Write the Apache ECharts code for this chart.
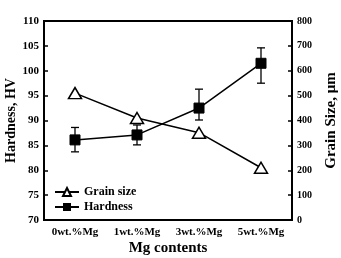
<!DOCTYPE html>
<html>
<head>
<meta charset="utf-8">
<script src="https://cdn.jsdelivr.net/npm/echarts@6/dist/echarts.min.js"></script>
<style>
  html, body { margin: 0; padding: 0; background: #fff; }
  #chart { width: 341px; height: 258px; }
</style>
</head>
<body>
<div id="chart"></div>
<script>
// 数据
var categories = ['0wt.%Mg', '1wt.%Mg', '3wt.%Mg', '5wt.%Mg'];
var hardness = [86.1, 87.1, 92.5, 101.5];
var hardnessLow = [83.7, 85.1, 90.1, 97.5];
var hardnessHigh = [88.6, 89.1, 96.3, 104.6];
var grainSize = [510, 410, 351, 210];

var font = 'Liberation Serif';

var errData = [];
for (var i = 0; i < categories.length; i++) {
  errData.push([i, hardnessLow[i], hardnessHigh[i]]);
}

var myEchart = echarts.init(document.getElementById('chart'));
var option = {
  animation: false,
  textStyle: { fontFamily: font },
  grid: {
    left: 44, right: 49, top: 21, bottom: 38,
    outerBoundsMode: 'none',
    containLabel: false,
    show: true, borderColor: '#000', borderWidth: 2, backgroundColor: 'transparent'
  },
  legend: {
    orient: 'vertical',
    left: 49, top: 181,
    itemGap: 3,
    itemWidth: 24, itemHeight: 10,
    textStyle: { fontFamily: font, fontWeight: 'bold', fontSize: 12, color: '#000' },
    data: ['Grain size', 'Hardness']
  },
  xAxis: {
    type: 'category',
    data: categories,
    name: 'Mg contents',
    nameLocation: 'middle',
    nameGap: 21,
    nameMoveOverlap: false,
    nameTextStyle: { fontFamily: font, fontWeight: 'bold', fontSize: 15, color: '#000' },
    axisLine: { lineStyle: { color: '#000', width: 2 } },
    axisTick: { inside: true, alignWithLabel: true, length: 4, lineStyle: { color: '#000', width: 1.5 } },
    axisLabel: { interval: 0, fontFamily: font, fontWeight: 'bold', fontSize: 11, color: '#000', margin: 7 }
  },
  yAxis: [
    {
      type: 'value',
      min: 70, max: 110, interval: 5,
      name: 'Hardness, HV',
      nameLocation: 'middle',
      nameGap: 26,
      nameMoveOverlap: false,
      nameTextStyle: { fontFamily: font, fontWeight: 'bold', fontSize: 14, color: '#000' },
      axisLine: { show: true, lineStyle: { color: '#000', width: 2 } },
      axisTick: { show: true, inside: true, length: 4, lineStyle: { color: '#000', width: 1.5 } },
      axisLabel: { fontFamily: font, fontWeight: 'bold', fontSize: 11, color: '#000', margin: 5 },
      splitLine: { show: false }
    },
    {
      type: 'value',
      min: 0, max: 800, interval: 100,
      position: 'right',
      name: 'Grain Size, \u03bcm',
      nameLocation: 'middle',
      nameGap: 32,
      nameRotate: 90,
      nameMoveOverlap: false,
      nameTextStyle: { fontFamily: font, fontWeight: 'bold', fontSize: 15, color: '#000' },
      axisLine: { show: true, lineStyle: { color: '#000', width: 2 } },
      axisTick: { show: true, inside: true, length: 4, lineStyle: { color: '#000', width: 1.5 } },
      axisLabel: { fontFamily: font, fontWeight: 'bold', fontSize: 10, color: '#000', margin: 5 },
      splitLine: { show: false }
    }
  ],
  series: [
    {
      name: 'Grain size',
      type: 'line',
      yAxisIndex: 1,
      data: grainSize,
      symbol: 'triangle',
      symbolSize: [13, 11],
      lineStyle: { color: '#000', width: 1.5 },
      itemStyle: { color: '#fff', borderColor: '#000', borderWidth: 1.5 },
      z: 3
    },
    {
      name: 'Hardness',
      type: 'line',
      yAxisIndex: 0,
      data: hardness,
      symbol: 'rect',
      symbolSize: 10,
      lineStyle: { color: '#000', width: 1.5 },
      itemStyle: { color: '#000', borderColor: '#000' },
      z: 4
    },
    {
      name: 'err',
      type: 'custom',
      yAxisIndex: 0,
      data: errData,
      z: 2,
      renderItem: function (params, api) {
        var x = api.value(0);
        var lo = api.coord([x, api.value(1)]);
        var hi = api.coord([x, api.value(2)]);
        var w = 4;
        var st = { stroke: '#000', lineWidth: 1.3 };
        return {
          type: 'group',
          children: [
            { type: 'line', shape: { x1: lo[0], y1: lo[1], x2: hi[0], y2: hi[1] }, style: st },
            { type: 'line', shape: { x1: lo[0] - w, y1: lo[1], x2: lo[0] + w, y2: lo[1] }, style: st },
            { type: 'line', shape: { x1: hi[0] - w, y1: hi[1], x2: hi[0] + w, y2: hi[1] }, style: st }
          ]
        };
      }
    }
  ]
};
myEchart.setOption(option);
</script>
</body>
</html>
